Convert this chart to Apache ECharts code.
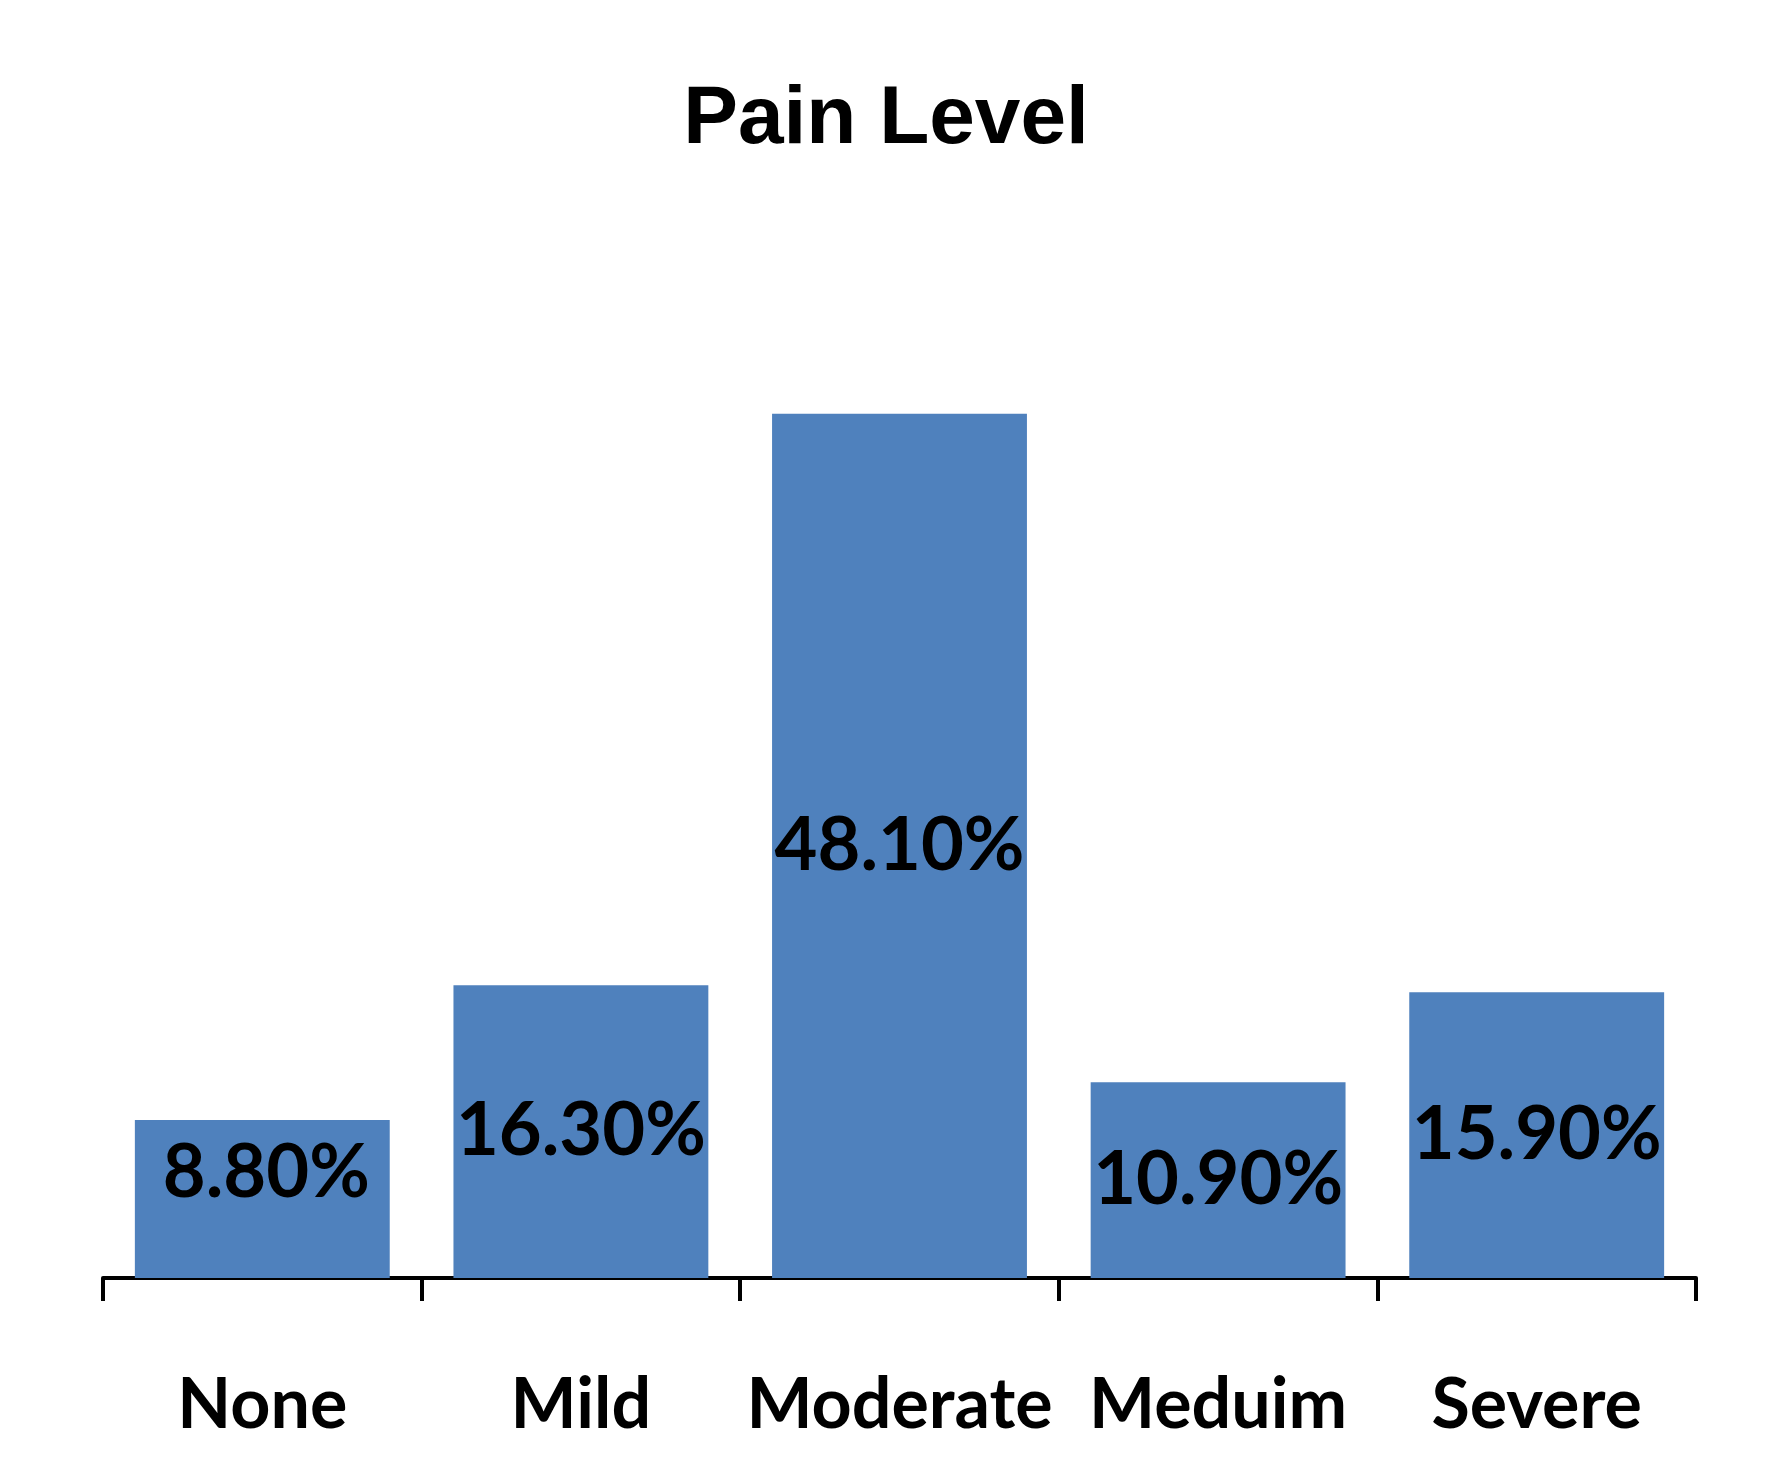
<!DOCTYPE html>
<html>
<head>
<meta charset="utf-8">
<title>Pain Level</title>
<script src="https://cdn.jsdelivr.net/npm/echarts@6/dist/echarts.min.js"></script>
<style>
  html, body { margin: 0; padding: 0; background: #fff; }
  #chart { width: 1772px; height: 1484px; }
</style>
</head>
<body>
<div id="chart"></div>
<script>
const categories = ['None', 'Mild', 'Moderate', 'Meduim', 'Severe']
const percents = [8.8, 16.3, 48.1, 10.9, 15.9]

const labelFont = 'Lato, "Noto Sans", sans-serif'

const chart = echarts.init(document.getElementById('chart'))

chart.setOption({
  animation: false,
  backgroundColor: '#fff',
  title: {
    text: 'Pain Level',
    left: 'center',
    top: 74,
    textStyle: {
      fontFamily: '"Liberation Sans", Arial, sans-serif',
      fontWeight: 'bold',
      fontSize: 82,
      color: '#000'
    }
  },
  grid: { left: 103, right: 76, top: 200, bottom: 206 },
  xAxis: {
    type: 'category',
    data: categories,
    axisLine: { lineStyle: { color: '#000', width: 4 } },
    axisTick: { show: true, length: 23, lineStyle: { color: '#000', width: 4 } },
    axisLabel: {
      interval: 0,
      margin: 92,
      fontFamily: labelFont,
      fontWeight: 'bold',
      fontSize: 70,
      color: '#000'
    }
  },
  yAxis: {
    type: 'value',
    min: 0,
    max: 60,
    show: false,
    splitLine: { show: false }
  },
  series: [{
    type: 'bar',
    // the first label sits a little above the middle of its bar in the original
    data: percents.map((v, i) => i === 0 ? { value: v, label: { offset: [4, -26] } } : v),
    barCategoryGap: '20%',
    itemStyle: { color: '#4F81BD' },
    label: {
      show: true,
      position: 'inside',
      formatter: p => p.value.toFixed(2) + '%',
      fontFamily: labelFont,
      fontWeight: 'bold',
      fontSize: 74,
      color: '#000'
    }
  }]
})
</script>
</body>
</html>
